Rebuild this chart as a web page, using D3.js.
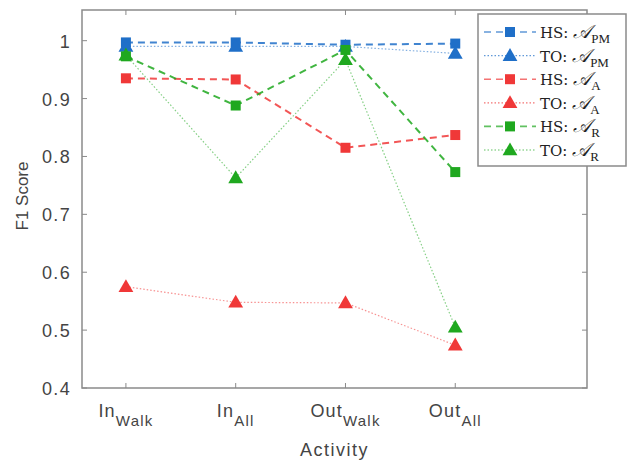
<!DOCTYPE html>
<html><head><meta charset="utf-8">
<script src="https://cdn.jsdelivr.net/npm/d3@7"></script>
<style>body{margin:0;background:#fff}</style>
</head><body>
<svg id="c" width="635" height="461"></svg>
<script>
const categories = ["Walk","All","Walk","All"];
const catMain = ["In","In","Out","Out"];
const yTicks = [0.4,0.5,0.6,0.7,0.8,0.9,1];
const hsPM = [0.997, 0.997, 0.993, 0.995];
const toPM = [0.990, 0.990, 0.990, 0.978];
const hsA  = [0.935, 0.933, 0.815, 0.837];
const toA  = [0.575, 0.548, 0.547, 0.474];
const hsR  = [0.973, 0.888, 0.984, 0.773];
const toR  = [0.975, 0.763, 0.967, 0.505];
const seriesNames = ["PM","PM","A","A","R","R"];
const seriesPrefix = ["HS","TO","HS","TO","HS","TO"];

const svg = d3.select("#c");
const L=82, T=10, R=587, B=388;
const x = d3.scaleLinear().domain([0.6,5.2]).range([L,R]);
const y = d3.scaleLinear().domain([0.4,1.053]).range([B,T]);
const blue="#1f6fc8", red="#f03838", green="#1fa81f";
const series = [
  {v:hsPM,c:blue,dash:"7,5",m:"sq"},
  {v:toPM,c:blue,dash:"1.5,2",m:"tri"},
  {v:hsA,c:red,dash:"7,5",m:"sq"},
  {v:toA,c:red,dash:"1.5,2",m:"tri"},
  {v:hsR,c:green,dash:"7,5",m:"sq"},
  {v:toR,c:green,dash:"1.5,2",m:"tri"}
];
const axc="#8a8a8a";
const sans="Liberation Sans, Arial, sans-serif";
// box
svg.append("rect").attr("x",L).attr("y",T).attr("width",R-L).attr("height",B-T)
  .attr("fill","#fff").attr("stroke",axc).attr("stroke-width",1.5);
// y ticks
yTicks.forEach(t=>{
  svg.append("line").attr("x1",L).attr("x2",L+5).attr("y1",y(t)).attr("y2",y(t)).attr("stroke",axc);
  svg.append("line").attr("x1",R).attr("x2",R-5).attr("y1",y(t)).attr("y2",y(t)).attr("stroke",axc);
  svg.append("text").attr("x",L-11).attr("y",y(t)+7).attr("text-anchor","end")
    .attr("font-family",sans).attr("font-size",18).attr("letter-spacing",1.3).attr("fill","#444").text(t===1?"1":t.toFixed(1));
});
// x ticks
categories.forEach((c,i)=>{
  const xi=x(i+1);
  svg.append("line").attr("x1",xi).attr("x2",xi).attr("y1",B).attr("y2",B-5).attr("stroke",axc);
  svg.append("line").attr("x1",xi).attr("x2",xi).attr("y1",T).attr("y2",T+5).attr("stroke",axc);
  const t=svg.append("text").attr("x",xi).attr("y",417).attr("text-anchor","middle")
    .attr("font-family",sans).attr("font-size",18).attr("letter-spacing",1.2).attr("fill","#444");
  t.append("tspan").text(catMain[i]);
  t.append("tspan").attr("dy",9).attr("font-size",15).attr("letter-spacing",1.2).text(c);
});
svg.append("text").attr("x",(L+R)/2).attr("y",456).attr("text-anchor","middle")
  .attr("font-family",sans).attr("font-size",18).attr("letter-spacing",1.5).attr("fill","#444").text("Activity");
svg.append("text").attr("transform",`translate(28,${(T+B)/2-3}) rotate(-90)`).attr("text-anchor","middle")
  .attr("font-family",sans).attr("font-size",17).attr("fill","#444").text("F1 Score");

const line=d3.line().x((d,i)=>x(i+1)).y(d=>y(d));
const tri=d3.symbol().type(d3.symbolTriangle).size(95);
function marker(g,m,cx,cy,c){
  if(m==="sq") g.append("rect").attr("x",cx-5).attr("y",cy-5).attr("width",10).attr("height",10).attr("fill",c);
  else g.append("path").attr("d",tri()).attr("transform",`translate(${cx},${cy+1})`).attr("fill",c);
}
series.forEach(s=>{
  svg.append("path").datum(s.v).attr("d",line).attr("fill","none").attr("stroke",s.c)
    .attr("stroke-width",s.m==="sq"?2:1.2).attr("stroke-dasharray",s.dash).attr("opacity",s.m==="sq"?0.85:0.55);
});
series.forEach(s=>{
  const g=svg.append("g");
  s.v.forEach((d,i)=>marker(g,s.m,x(i+1),y(d),s.c));
});
// legend
const lx=478, ly=14, lw=148, lh=152;
svg.append("rect").attr("x",lx).attr("y",ly).attr("width",lw).attr("height",lh)
  .attr("fill","#fff").attr("stroke",axc).attr("stroke-width",1.5);
series.forEach((s,i)=>{
  const cy=ly+18+i*23.6;
  svg.append("line").attr("x1",lx+6).attr("x2",lx+58).attr("y1",cy).attr("y2",cy).attr("stroke",s.c)
    .attr("stroke-width",s.m==="sq"?1.6:1.2).attr("stroke-dasharray",s.dash).attr("opacity",0.7);
  marker(svg,s.m,lx+32,cy,s.c);
  const t=svg.append("text").attr("x",lx+62).attr("y",cy+6).attr("font-family","DejaVu Serif, Liberation Serif, serif")
    .attr("font-size",15).attr("fill","#222");
  t.append("tspan").text(seriesPrefix[i]+": ");
  t.append("tspan").attr("font-style","italic").attr("font-family","Liberation Serif, serif").attr("font-size",19).text("𝒜");
  t.append("tspan").attr("dy",5).attr("font-size",13).attr("font-family","Liberation Serif, serif").text(seriesNames[i]);
});
</script>
</body></html>
